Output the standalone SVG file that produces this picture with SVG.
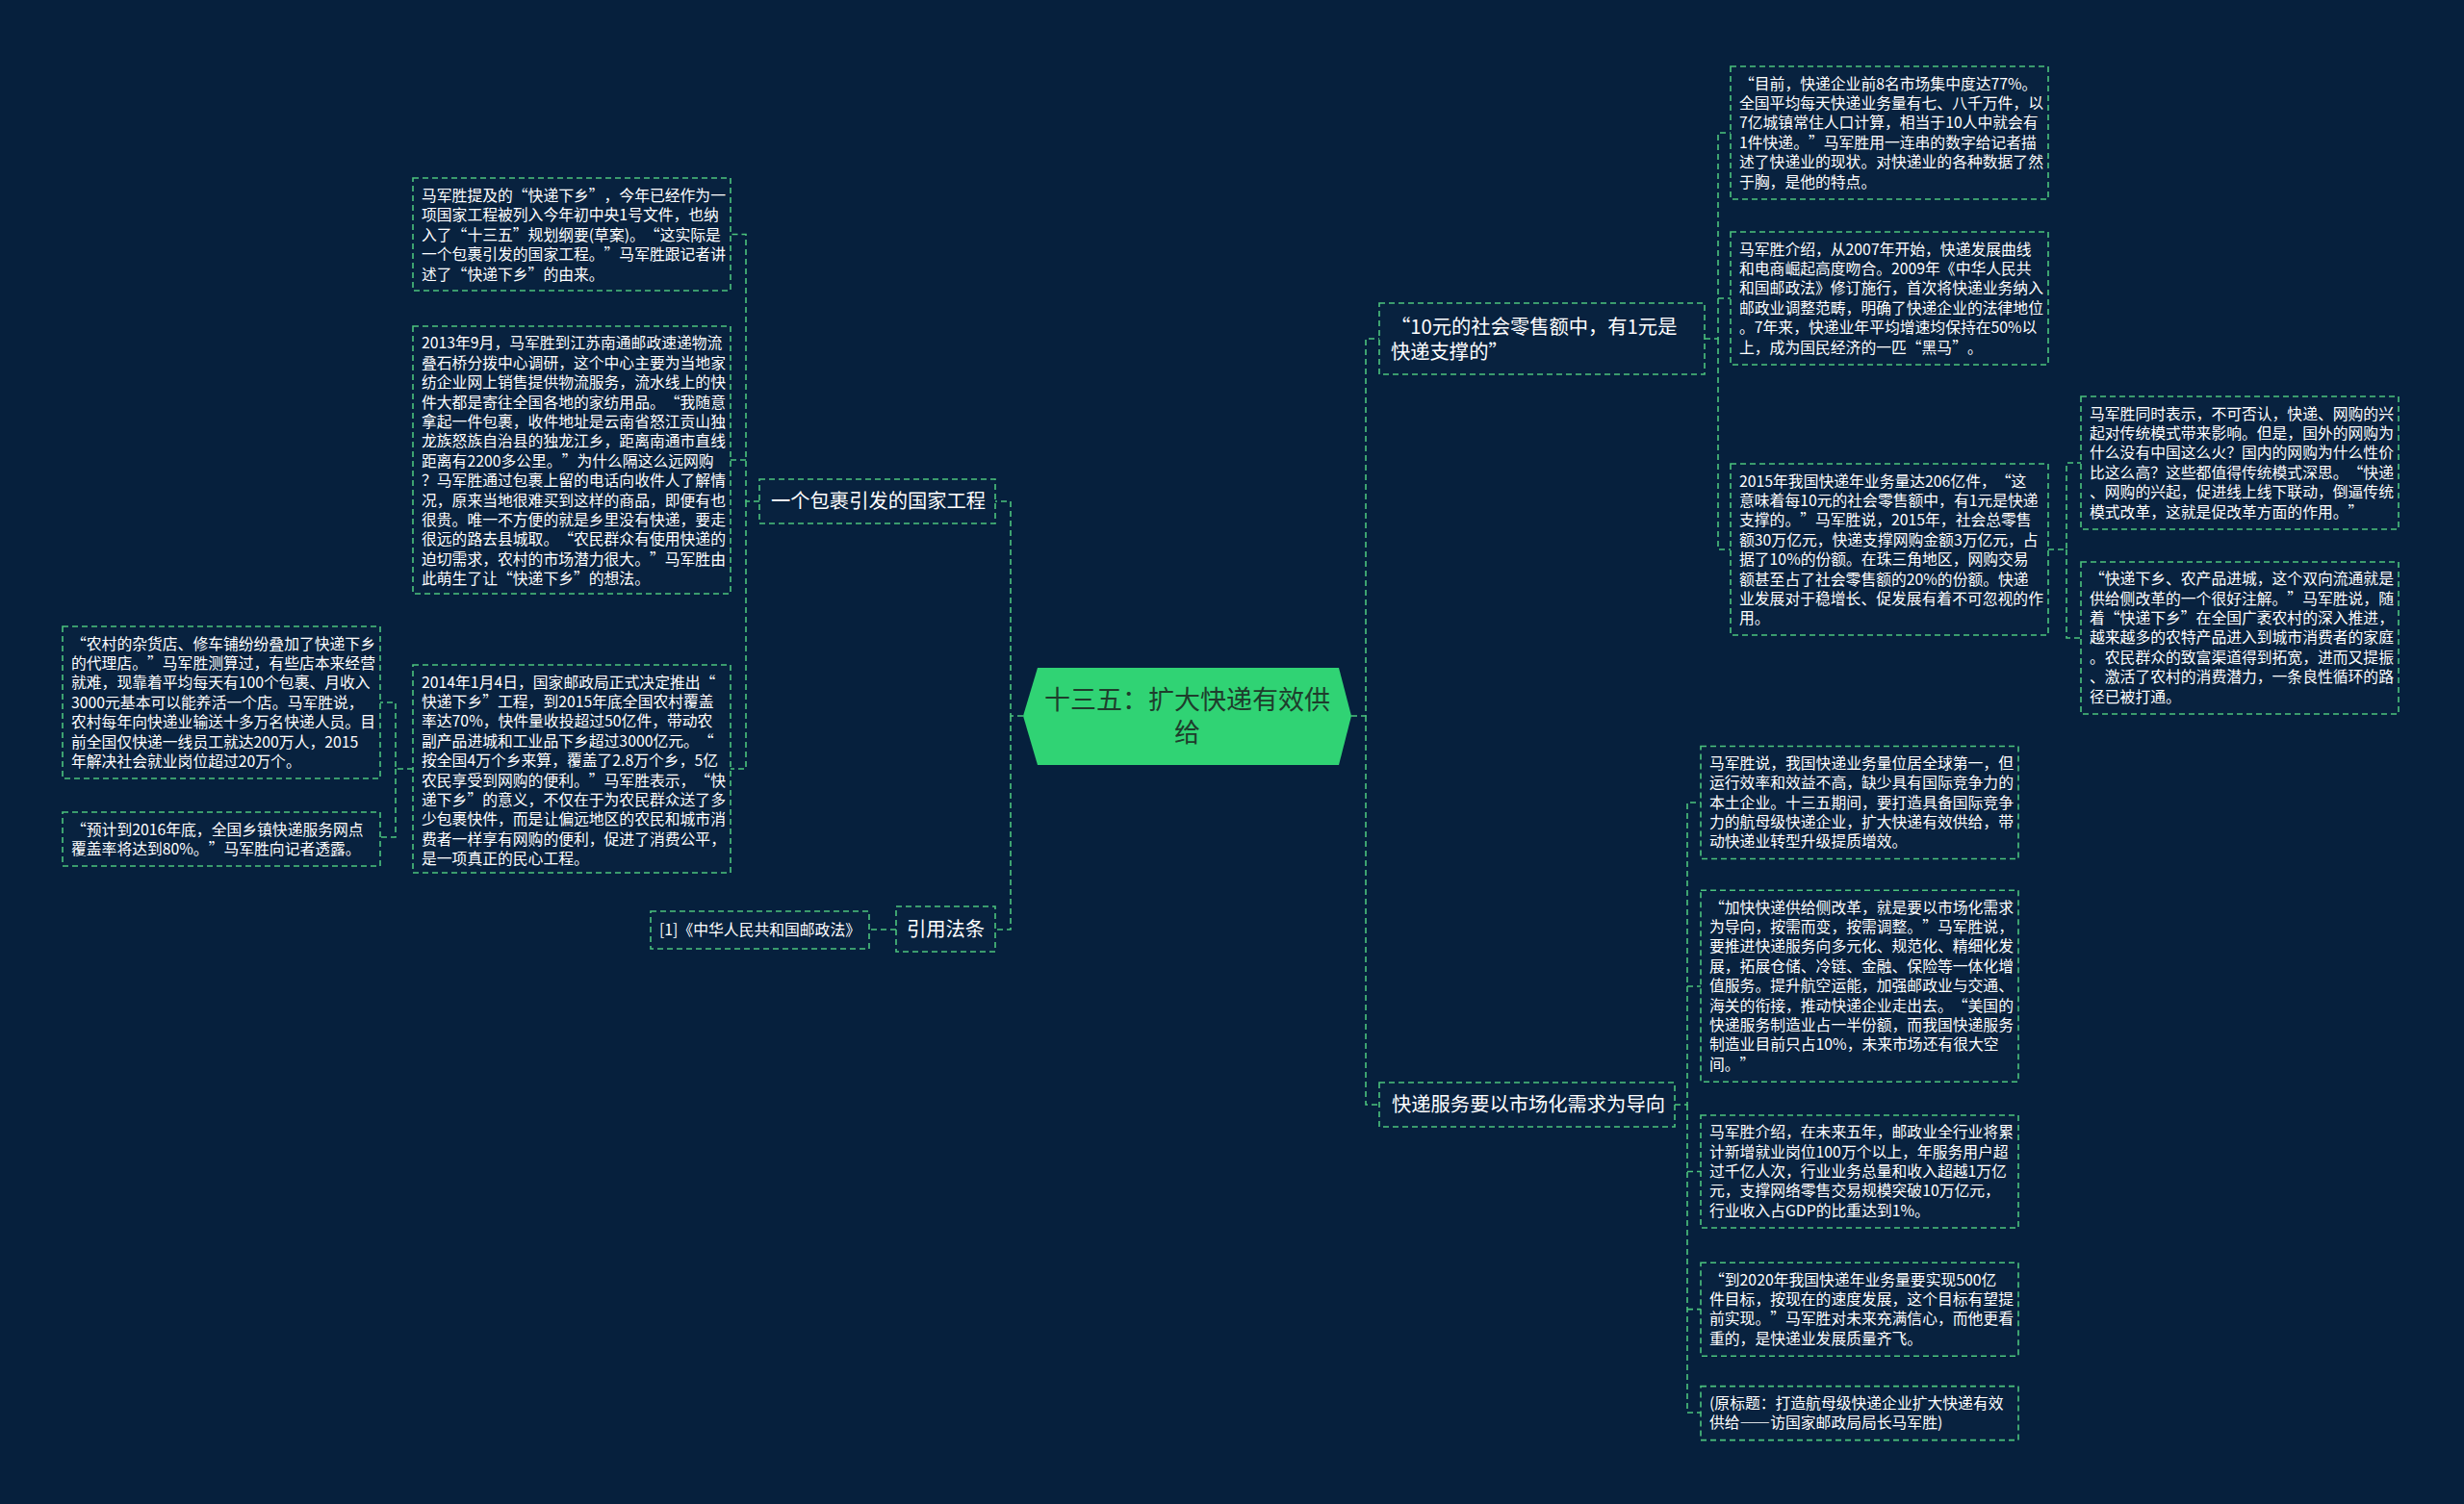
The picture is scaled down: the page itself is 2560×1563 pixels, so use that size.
<svg xmlns="http://www.w3.org/2000/svg" width="2560" height="1563" viewBox="0 0 2560 1563" lang="zh-CN">
<style>
.bg{fill:#06203d}
.box{fill:#08223f;stroke:#4cc47e;stroke-width:1.6;stroke-dasharray:6 4}
.conn path{fill:none;stroke:#4cc47e;stroke-width:1.6;stroke-dasharray:6 4}
text{text-spacing-trim:space-all}
.lt{font-family:"Noto Sans CJK SC","Noto Sans",sans-serif;font-size:15.8px;fill:#ffffff}
.bt{font-family:"Noto Sans CJK SC","Noto Sans",sans-serif;font-size:20.3px;fill:#ffffff}
.ct{font-family:"Noto Sans CJK SC","Noto Sans",sans-serif;font-size:27px;fill:#1e3d2c;text-anchor:middle}
.hex{fill:#30d374}
</style>
<rect class="bg" x="0" y="0" width="2560" height="1563"/>
<g id="connectors" class="conn">
<path d="M1063 744 H1050 V521 H1034"/>
<path d="M1050 744 V966 H1034"/>
<path d="M789 521 H775 V243.5 H759"/>
<path d="M775 478 H759"/>
<path d="M775 521 V799 H759"/>
<path d="M429 799 H411 V730 H395"/>
<path d="M411 799 V870 H395"/>
<path d="M931 966 H903"/>
<path d="M1404 744 H1419 V352 H1433"/>
<path d="M1419 744 V1148 H1433"/>
<path d="M1771 352 H1785 V138 H1798"/>
<path d="M1785 310 H1798"/>
<path d="M1785 352 V571 H1798"/>
<path d="M2128 571 H2147 V481 H2162"/>
<path d="M2147 571 V663 H2162"/>
<path d="M1740 1148 H1753 V834 H1767"/>
<path d="M1753 1148 V1468 H1767"/>
<path d="M1753 1025 H1767"/>
<path d="M1753 1217.5 H1767"/>
<path d="M1753 1360.6 H1767"/>
</g>
<g id="center">
<polygon class="hex" points="1063,744 1078,694 1391,694 1404,744 1391,795 1078,795"/>
<text class="ct" x="1233.5" y="736.5">十三五：扩大快递有效供</text>
<text class="ct" x="1233.5" y="770.5">给</text>
</g>
<g id="branch-pkg">
<rect class="box" x="789" y="498" width="245" height="46"/>
<text class="bt" x="801" y="528">一个包裹引发的国家工程</text>
</g>
<g id="branch-law">
<rect class="box" x="931" y="942" width="103" height="47"/>
<text class="bt" x="942" y="973">引用法条</text>
</g>
<g id="branch-10yuan">
<rect class="box" x="1433" y="315" width="338" height="74"/>
<text class="bt" x="1445" y="347">“10元的社会零售额中，有1元是</text>
<text class="bt" x="1445" y="373">快递支撑的”</text>
</g>
<g id="branch-market">
<rect class="box" x="1433" y="1125" width="307" height="46"/>
<text class="bt" x="1446" y="1155">快递服务要以市场化需求为导向</text>
</g>
<g id="leaf-law">
<rect class="box" x="676" y="947" width="227" height="39"/>
<text class="lt" x="685" y="971.5">[1]《中华人民共和国邮政法》</text>
</g>
<g id="leaf-L1">
<rect class="box" x="429" y="185" width="330" height="117"/>
<text class="lt" x="438" y="209">马军胜提及的“快递下乡”，今年已经作为一</text>
<text class="lt" x="438" y="229.4">项国家工程被列入今年初中央1号文件，也纳</text>
<text class="lt" x="438" y="249.8">入了“十三五”规划纲要(草案)。“这实际是</text>
<text class="lt" x="438" y="270.2">一个包裹引发的国家工程。”马军胜跟记者讲</text>
<text class="lt" x="438" y="290.6">述了“快递下乡”的由来。</text>
</g>
<g id="leaf-L2">
<rect class="box" x="429" y="339" width="330" height="278"/>
<text class="lt" x="438" y="362.4">2013年9月，马军胜到江苏南通邮政速递物流</text>
<text class="lt" x="438" y="382.8">叠石桥分拨中心调研，这个中心主要为当地家</text>
<text class="lt" x="438" y="403.2">纺企业网上销售提供物流服务，流水线上的快</text>
<text class="lt" x="438" y="423.6">件大都是寄往全国各地的家纺用品。“我随意</text>
<text class="lt" x="438" y="444">拿起一件包裹，收件地址是云南省怒江贡山独</text>
<text class="lt" x="438" y="464.4">龙族怒族自治县的独龙江乡，距离南通市直线</text>
<text class="lt" x="438" y="484.8">距离有2200多公里。”为什么隔这么远网购</text>
<text class="lt" x="438" y="505.2">？马军胜通过包裹上留的电话向收件人了解情</text>
<text class="lt" x="438" y="525.6">况，原来当地很难买到这样的商品，即便有也</text>
<text class="lt" x="438" y="546">很贵。唯一不方便的就是乡里没有快递，要走</text>
<text class="lt" x="438" y="566.4">很远的路去县城取。“农民群众有使用快递的</text>
<text class="lt" x="438" y="586.8">迫切需求，农村的市场潜力很大。”马军胜由</text>
<text class="lt" x="438" y="607.2">此萌生了让“快递下乡”的想法。</text>
</g>
<g id="leaf-L3">
<rect class="box" x="429" y="691" width="330" height="216"/>
<text class="lt" x="438" y="714.5">2014年1月4日，国家邮政局正式决定推出“</text>
<text class="lt" x="438" y="734.9">快递下乡”工程，到2015年底全国农村覆盖</text>
<text class="lt" x="438" y="755.3">率达70%，快件量收投超过50亿件，带动农</text>
<text class="lt" x="438" y="775.7">副产品进城和工业品下乡超过3000亿元。“</text>
<text class="lt" x="438" y="796.1">按全国4万个乡来算，覆盖了2.8万个乡，5亿</text>
<text class="lt" x="438" y="816.5">农民享受到网购的便利。”马军胜表示，“快</text>
<text class="lt" x="438" y="836.9">递下乡”的意义，不仅在于为农民群众送了多</text>
<text class="lt" x="438" y="857.3">少包裹快件，而是让偏远地区的农民和城市消</text>
<text class="lt" x="438" y="877.7">费者一样享有网购的便利，促进了消费公平，</text>
<text class="lt" x="438" y="898.1">是一项真正的民心工程。</text>
</g>
<g id="leaf-LL1">
<rect class="box" x="65" y="651" width="330" height="158"/>
<text class="lt" x="74" y="674.5">“农村的杂货店、修车铺纷纷叠加了快递下乡</text>
<text class="lt" x="74" y="694.9">的代理店。”马军胜测算过，有些店本来经营</text>
<text class="lt" x="74" y="715.3">就难，现靠着平均每天有100个包裹、月收入</text>
<text class="lt" x="74" y="735.7">3000元基本可以能养活一个店。马军胜说，</text>
<text class="lt" x="74" y="756.1">农村每年向快递业输送十多万名快递人员。目</text>
<text class="lt" x="74" y="776.5">前全国仅快递一线员工就达200万人，2015</text>
<text class="lt" x="74" y="796.9">年解决社会就业岗位超过20万个。</text>
</g>
<g id="leaf-LL2">
<rect class="box" x="65" y="844" width="330" height="56"/>
<text class="lt" x="74" y="867.8">“预计到2016年底，全国乡镇快递服务网点</text>
<text class="lt" x="74" y="888.2">覆盖率将达到80%。”马军胜向记者透露。</text>
</g>
<g id="leaf-R1">
<rect class="box" x="1798" y="69" width="330" height="138"/>
<text class="lt" x="1807" y="92.5">“目前，快递企业前8名市场集中度达77%。</text>
<text class="lt" x="1807" y="112.9">全国平均每天快递业务量有七、八千万件，以</text>
<text class="lt" x="1807" y="133.3">7亿城镇常住人口计算，相当于10人中就会有</text>
<text class="lt" x="1807" y="153.7">1件快递。”马军胜用一连串的数字给记者描</text>
<text class="lt" x="1807" y="174.1">述了快递业的现状。对快递业的各种数据了然</text>
<text class="lt" x="1807" y="194.5">于胸，是他的特点。</text>
</g>
<g id="leaf-R2">
<rect class="box" x="1798" y="241" width="330" height="138"/>
<text class="lt" x="1807" y="264.5">马军胜介绍，从2007年开始，快递发展曲线</text>
<text class="lt" x="1807" y="284.9">和电商崛起高度吻合。2009年《中华人民共</text>
<text class="lt" x="1807" y="305.3">和国邮政法》修订施行，首次将快递业务纳入</text>
<text class="lt" x="1807" y="325.7">邮政业调整范畴，明确了快递企业的法律地位</text>
<text class="lt" x="1807" y="346.1">。7年来，快递业年平均增速均保持在50%以</text>
<text class="lt" x="1807" y="366.5">上，成为国民经济的一匹“黑马”。</text>
</g>
<g id="leaf-R3">
<rect class="box" x="1798" y="482" width="330" height="178"/>
<text class="lt" x="1807" y="505.5">2015年我国快递年业务量达206亿件，“这</text>
<text class="lt" x="1807" y="525.9">意味着每10元的社会零售额中，有1元是快递</text>
<text class="lt" x="1807" y="546.3">支撑的。”马军胜说，2015年，社会总零售</text>
<text class="lt" x="1807" y="566.7">额30万亿元，快递支撑网购金额3万亿元，占</text>
<text class="lt" x="1807" y="587.1">据了10%的份额。在珠三角地区，网购交易</text>
<text class="lt" x="1807" y="607.5">额甚至占了社会零售额的20%的份额。快递</text>
<text class="lt" x="1807" y="627.9">业发展对于稳增长、促发展有着不可忽视的作</text>
<text class="lt" x="1807" y="648.3">用。</text>
</g>
<g id="leaf-RR1">
<rect class="box" x="2162" y="412" width="330" height="138"/>
<text class="lt" x="2171" y="435.5">马军胜同时表示，不可否认，快递、网购的兴</text>
<text class="lt" x="2171" y="455.9">起对传统模式带来影响。但是，国外的网购为</text>
<text class="lt" x="2171" y="476.3">什么没有中国这么火？国内的网购为什么性价</text>
<text class="lt" x="2171" y="496.7">比这么高？这些都值得传统模式深思。“快递</text>
<text class="lt" x="2171" y="517.1">、网购的兴起，促进线上线下联动，倒逼传统</text>
<text class="lt" x="2171" y="537.5">模式改革，这就是促改革方面的作用。”</text>
</g>
<g id="leaf-RR2">
<rect class="box" x="2162" y="584" width="330" height="158"/>
<text class="lt" x="2171" y="607.2">“快递下乡、农产品进城，这个双向流通就是</text>
<text class="lt" x="2171" y="627.6">供给侧改革的一个很好注解。”马军胜说，随</text>
<text class="lt" x="2171" y="648">着“快递下乡”在全国广袤农村的深入推进，</text>
<text class="lt" x="2171" y="668.4">越来越多的农特产品进入到城市消费者的家庭</text>
<text class="lt" x="2171" y="688.8">。农民群众的致富渠道得到拓宽，进而又提振</text>
<text class="lt" x="2171" y="709.2">、激活了农村的消费潜力，一条良性循环的路</text>
<text class="lt" x="2171" y="729.6">径已被打通。</text>
</g>
<g id="leaf-B1">
<rect class="box" x="1767" y="775.5" width="330" height="117"/>
<text class="lt" x="1776" y="798.8">马军胜说，我国快递业务量位居全球第一，但</text>
<text class="lt" x="1776" y="819.2">运行效率和效益不高，缺少具有国际竞争力的</text>
<text class="lt" x="1776" y="839.6">本土企业。十三五期间，要打造具备国际竞争</text>
<text class="lt" x="1776" y="860">力的航母级快递企业，扩大快递有效供给，带</text>
<text class="lt" x="1776" y="880.4">动快递业转型升级提质增效。</text>
</g>
<g id="leaf-B2">
<rect class="box" x="1767" y="925.3" width="330" height="199"/>
<text class="lt" x="1776" y="948.5">“加快快递供给侧改革，就是要以市场化需求</text>
<text class="lt" x="1776" y="968.9">为导向，按需而变，按需调整。”马军胜说，</text>
<text class="lt" x="1776" y="989.3">要推进快递服务向多元化、规范化、精细化发</text>
<text class="lt" x="1776" y="1009.7">展，拓展仓储、冷链、金融、保险等一体化增</text>
<text class="lt" x="1776" y="1030.1">值服务。提升航空运能，加强邮政业与交通、</text>
<text class="lt" x="1776" y="1050.5">海关的衔接，推动快递企业走出去。“美国的</text>
<text class="lt" x="1776" y="1070.9">快递服务制造业占一半份额，而我国快递服务</text>
<text class="lt" x="1776" y="1091.3">制造业目前只占10%，未来市场还有很大空</text>
<text class="lt" x="1776" y="1111.7">间。”</text>
</g>
<g id="leaf-B3">
<rect class="box" x="1767" y="1159" width="330" height="117"/>
<text class="lt" x="1776" y="1182.2">马军胜介绍，在未来五年，邮政业全行业将累</text>
<text class="lt" x="1776" y="1202.6">计新增就业岗位100万个以上，年服务用户超</text>
<text class="lt" x="1776" y="1223">过千亿人次，行业业务总量和收入超越1万亿</text>
<text class="lt" x="1776" y="1243.4">元，支撑网络零售交易规模突破10万亿元，</text>
<text class="lt" x="1776" y="1263.8">行业收入占GDP的比重达到1%。</text>
</g>
<g id="leaf-B4">
<rect class="box" x="1767" y="1312.3" width="330" height="97"/>
<text class="lt" x="1776" y="1335.5">“到2020年我国快递年业务量要实现500亿</text>
<text class="lt" x="1776" y="1355.9">件目标，按现在的速度发展，这个目标有望提</text>
<text class="lt" x="1776" y="1376.3">前实现。”马军胜对未来充满信心，而他更看</text>
<text class="lt" x="1776" y="1396.7">重的，是快递业发展质量齐飞。</text>
</g>
<g id="leaf-B5">
<rect class="box" x="1767" y="1440.6" width="330" height="56"/>
<text class="lt" x="1776" y="1463.8">(原标题：打造航母级快递企业扩大快递有效</text>
<text class="lt" x="1776" y="1484.2">供给——访国家邮政局局长马军胜)</text>
</g>
</svg>
